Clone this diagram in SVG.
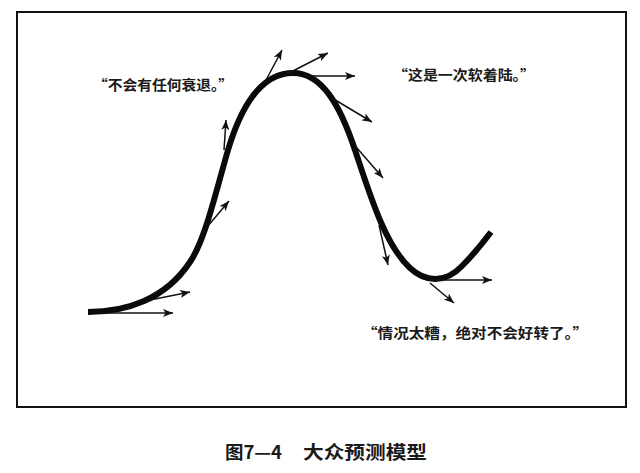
<svg xmlns="http://www.w3.org/2000/svg" width="640" height="473" viewBox="0 0 640 473">
<defs>
<marker id="ah" markerUnits="userSpaceOnUse" markerWidth="11" markerHeight="8" refX="10" refY="4" orient="auto">
<path d="M0,0 L10,4 L0,8 L2.5,4 z" fill="#111"/>
</marker>
<style>
.lbl{font-family:"Noto Sans CJK SC","Noto Sans CJK JP",sans-serif;font-size:14px;font-weight:700;fill:#1a1a1a;}
.cap{font-family:"Noto Sans CJK SC","Noto Sans CJK JP",sans-serif;font-size:18px;font-weight:700;fill:#1a1a1a;}
.arr{stroke:#111;stroke-width:1.5;fill:none;marker-end:url(#ah);}
</style>
</defs>
<rect width="640" height="473" fill="#fff"/>
<rect id="frame" x="17" y="12" width="609" height="395" fill="none" stroke="#111" stroke-width="2"/>
<g id="curve">
<path d="M88,312 C125,312 165,300 190,262 C205,240 215,195 228,150 C240,110 260,73 293,73 C322,73 340,105 355,150 C370,195 385,245 410,268 C425,282 445,284 462,266 C472,256 482,244 491,232" fill="none" stroke="#0a0a0a" stroke-width="6" stroke-linecap="butt"/>
</g>
<g id="connectors">
<line class="arr" x1="100" y1="313" x2="173" y2="313"/>
<line class="arr" x1="150" y1="300" x2="190" y2="292"/>
<line class="arr" x1="202" y1="233" x2="229" y2="201"/>
<line class="arr" x1="224" y1="150" x2="226" y2="120"/>
<line class="arr" x1="265" y1="82" x2="282" y2="50"/>
<line class="arr" x1="287" y1="74" x2="328" y2="53"/>
<line class="arr" x1="305" y1="76" x2="355" y2="76"/>
<line class="arr" x1="332" y1="98" x2="372" y2="122"/>
<line class="arr" x1="350" y1="140" x2="383" y2="178"/>
<line class="arr" x1="379" y1="225" x2="388" y2="265"/>
<line class="arr" x1="428" y1="280" x2="492" y2="280"/>
<line class="arr" x1="430" y1="283" x2="454" y2="303"/>
</g>
<g id="label-norecession">
<text class="lbl" x="93" y="90" textLength="140" lengthAdjust="spacingAndGlyphs">“不会有任何衰退。”</text>
</g>
<g id="label-softlanding">
<text class="lbl" x="393" y="80" textLength="142" lengthAdjust="spacingAndGlyphs">“这是一次软着陆。”</text>
</g>
<g id="label-bad">
<text class="lbl" x="362" y="338" textLength="226" lengthAdjust="spacingAndGlyphs">“情况太糟，绝对不会好转了。”</text>
</g>
<g id="caption">
<text class="cap" x="225" y="459" textLength="57" lengthAdjust="spacingAndGlyphs">图7—4</text>
<text class="cap" x="303" y="459" textLength="124" lengthAdjust="spacingAndGlyphs">大众预测模型</text>
</g>
</svg>
